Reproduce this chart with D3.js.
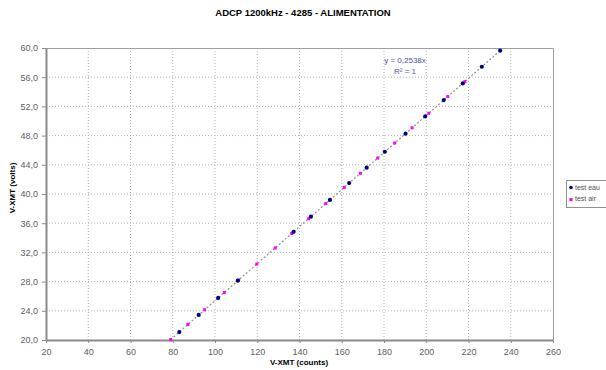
<!DOCTYPE html>
<html><head><meta charset="utf-8">
<script src="https://cdn.jsdelivr.net/npm/d3@7"></script>
<style>
body{margin:0;background:#fff;}
text{font-family:"Liberation Sans",Arial,sans-serif;}
</style></head>
<body><svg id="c" width="606" height="370"></svg>
<script>
const title = "ADCP 1200kHz - 4285 - ALIMENTATION";
const xTitle = "V-XMT (counts)";
const yTitle = "V-XMT (volts)";
const xTicks = [20,40,60,80,100,120,140,160,180,200,220,240,260];
const yTicks = [20,24,28,32,36,40,44,48,52,56,60];
const slope = 0.2538;
const eauCounts = [83.1,92.3,101.5,110.8,137.2,145.4,154.4,163.5,171.8,180.4,190.2,199.5,208.3,217.3,226.3,235.0];
const airCounts = [79,87.2,95.1,104.4,111.2,119.8,128.5,136.3,144.3,152.4,161.2,168.8,177.0,185.1,193.3,201.2,210.2,218.3];
const eauVolts = eauCounts.map(c => +(c*slope).toFixed(2));
const airVolts = airCounts.map(c => +(c*slope).toFixed(2));
const legendLabels = ["test eau","test air"];
const colors = ["#000080","#ff00ff"];

const svg = d3.select("#c");
const L=46, R=553, T=48, B=340;
const x = d3.scaleLinear().domain([20,260]).range([L,R]);
const y = d3.scaleLinear().domain([20,60]).range([B,T]);

// grid
svg.append("g").selectAll("line").data(xTicks.slice(1,-1)).join("line")
  .attr("x1",d=>x(d)).attr("x2",d=>x(d)).attr("y1",T).attr("y2",B)
  .attr("stroke","#b4b4b4").attr("stroke-width",1).attr("stroke-dasharray","1,2");
svg.append("g").selectAll("line").data(yTicks.slice(1,-1)).join("line")
  .attr("y1",d=>y(d)).attr("y2",d=>y(d)).attr("x1",L).attr("x2",R)
  .attr("stroke","#b4b4b4").attr("stroke-width",1).attr("stroke-dasharray","1,2");
// border top/right
svg.append("path").attr("d",`M${L},${T+0.5}H${R+0.5}V${B}`).attr("fill","none").attr("stroke","#a0a0a0").attr("stroke-width",1);

// axes
const xa = svg.append("g").attr("transform",`translate(0,${B})`)
  .call(d3.axisBottom(x).tickValues(xTicks).tickFormat(d3.format("d")).tickSize(3).tickSizeOuter(0));
const ya = svg.append("g").attr("transform",`translate(${L},0)`)
  .call(d3.axisLeft(y).tickValues(yTicks).tickFormat(d=>d.toFixed(1).replace(".",",")).tickSize(4).tickSizeOuter(0));
[xa,ya].forEach(g=>{
  g.select(".domain").attr("stroke","#8a8a8a").attr("stroke-width",2);
  g.selectAll(".tick line").attr("stroke","#8a8a8a");
  g.selectAll(".tick text").attr("fill","#606060").attr("font-size","9px").attr("font-family","Liberation Sans, Arial, sans-serif");
});
xa.selectAll(".tick text").attr("dy","0.95em");
ya.selectAll(".tick text").attr("dx","-1px");

// trendline
const xr = [d3.min(airCounts.concat(eauCounts)), d3.max(airCounts.concat(eauCounts))];
svg.append("line").attr("x1",x(xr[0])).attr("y1",y(xr[0]*slope)).attr("x2",x(xr[1])).attr("y2",y(xr[1]*slope))
  .attr("stroke","#909090").attr("stroke-width",1.2).attr("stroke-dasharray","2,2");

// points
svg.append("g").selectAll("rect").data(airCounts.map((c,i)=>[c,airVolts[i]])).join("rect")
  .attr("x",d=>x(d[0])-1.5).attr("y",d=>y(d[1])-1.5).attr("width",3).attr("height",3).attr("fill",colors[1]);
svg.append("g").selectAll("circle").data(eauCounts.map((c,i)=>[c,eauVolts[i]])).join("circle")
  .attr("cx",d=>x(d[0])).attr("cy",d=>y(d[1])).attr("r",2.1).attr("fill",colors[0]);

// texts
svg.append("text").attr("x",303).attr("y",16).attr("text-anchor","middle").attr("font-size","9.5px").attr("font-weight","bold").text(title);
svg.append("text").attr("x",299).attr("y",365).attr("text-anchor","middle").attr("font-size","8px").attr("font-weight","bold").text(xTitle);
svg.append("text").attr("transform","translate(15,188) rotate(-90)").attr("text-anchor","middle").attr("font-size","8px").attr("font-weight","bold").text(yTitle);
svg.append("text").attr("x",405).attr("y",63).attr("text-anchor","middle").attr("font-size","8px").attr("fill","#5050b0").text("y = 0,2538x");
svg.append("text").attr("x",405).attr("y",74).attr("text-anchor","middle").attr("font-size","8px").attr("fill","#5050b0").text("R² = 1");

// legend
const lg = svg.append("g");
lg.append("rect").attr("x",566.5).attr("y",180.5).attr("width",50).attr("height",27).attr("fill","#fff").attr("stroke","#909090");
lg.append("circle").attr("cx",571).attr("cy",187.5).attr("r",1.8).attr("fill",colors[0]);
lg.append("rect").attr("x",569.5).attr("y",198).attr("width",3).attr("height",3).attr("fill",colors[1]);
lg.selectAll("text.l").data(legendLabels).join("text").attr("class","l")
  .attr("x",575).attr("y",(d,i)=>190+i*11).attr("font-size","7px").attr("fill","#505050").text(d=>d);
</script></body></html>
